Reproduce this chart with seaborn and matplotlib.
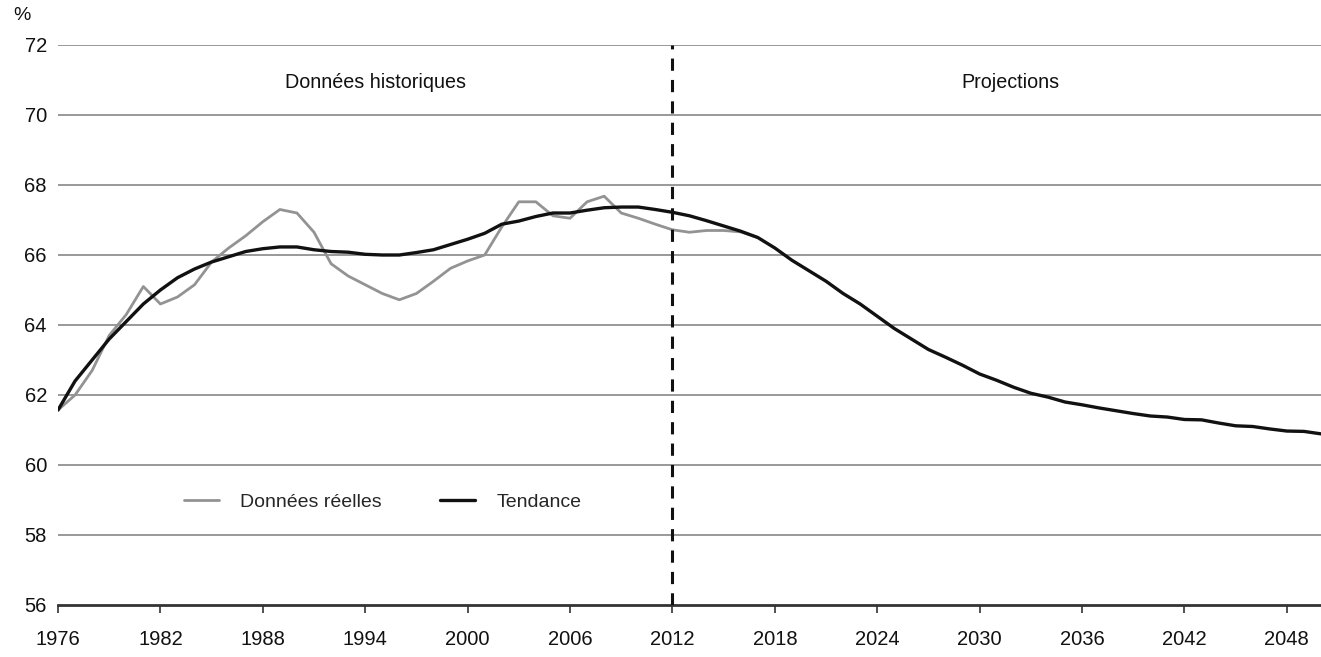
import matplotlib
matplotlib.use("Agg")
import matplotlib.pyplot as plt
import seaborn as sns
import pandas as pd

years_hist = list(range(1976, 2018))
reelles = [61.57, 62.0, 62.7, 63.7, 64.3, 65.1, 64.6, 64.8, 65.15, 65.8,
           66.2, 66.55, 66.95, 67.3, 67.2, 66.65, 65.75, 65.4, 65.15, 64.9,
           64.72, 64.9, 65.25, 65.62, 65.83, 66.0, 66.8, 67.52, 67.52, 67.12,
           67.05, 67.52, 67.68, 67.2, 67.05, 66.88, 66.72, 66.65, 66.7, 66.7,
           66.66, 66.5]

years_trend = list(range(1976, 2051))
tendance = [61.57, 62.4, 63.0, 63.6, 64.1, 64.6, 65.0, 65.35, 65.6, 65.8,
            65.95, 66.1, 66.18, 66.23, 66.23, 66.15, 66.1, 66.08, 66.02, 66.0,
            66.0, 66.07, 66.15, 66.3, 66.45, 66.62, 66.88, 66.97, 67.1, 67.2,
            67.2, 67.28, 67.35, 67.37, 67.37, 67.3, 67.22, 67.12, 66.98, 66.83,
            66.68, 66.5, 66.2, 65.85, 65.55, 65.25, 64.9, 64.6, 64.25, 63.9,
            63.6, 63.3, 63.08, 62.85, 62.6, 62.42, 62.22, 62.05, 61.94, 61.8,
            61.72, 61.63, 61.55, 61.47, 61.4, 61.37, 61.3, 61.29, 61.2, 61.12,
            61.1, 61.03, 60.97, 60.96, 60.89]

x_ticks = list(range(1976, 2050, 6))
y_ticks = list(range(56, 73, 2))
split_year = 2012
label_hist = "Données historiques"
label_proj = "Projections"
label_real = "Données réelles"
label_trend = "Tendance"

sns.set_theme(style="white")
plt.rcParams['font.family'] = ['Liberation Sans', 'DejaVu Sans']

fig = plt.figure(figsize=(13.21, 6.57), dpi=100)
ax = fig.add_axes([58/1321, 52/657, 1263/1321, 560/657])

df_r = pd.DataFrame({"year": years_hist, "val": reelles})
df_t = pd.DataFrame({"year": years_trend, "val": tendance})

for yv in y_ticks[1:]:
    ax.axhline(yv, color="#999999", lw=1.4, zorder=0)

sns.lineplot(data=df_r, x="year", y="val", ax=ax, color="#939393", lw=2.0,
             label=label_real, zorder=2)
sns.lineplot(data=df_t, x="year", y="val", ax=ax, color="#111111", lw=2.4,
             label=label_trend, zorder=3)

ax.axvline(split_year, color="#111111", lw=2.2, ls=(0, (4, 3)), zorder=4)

ax.set_xlim(1976, 2050)
ax.set_ylim(56, 72)
ax.set_xticks(x_ticks)
ax.set_yticks(y_ticks)
ax.set_xticklabels([str(t) for t in x_ticks], fontsize=14.5)
ax.set_yticklabels([str(t) for t in y_ticks], fontsize=14.5)
ax.set_xlabel("")
ax.set_ylabel("")

for s in ["top", "right", "left"]:
    ax.spines[s].set_visible(False)
ax.spines["bottom"].set_color("#333333")
ax.spines["bottom"].set_linewidth(2.0)
ax.tick_params(axis="x", direction="out", length=6, width=1.2, color="#333333",
               pad=12, labelcolor="#111111", bottom=True)
ax.tick_params(axis="y", length=0, pad=8, labelcolor="#111111")

ax.text(0.2515, 0.933, label_hist, transform=ax.transAxes, ha="center",
        va="center", fontsize=14.2, color="#111111")
ax.text(0.754, 0.933, label_proj, transform=ax.transAxes, ha="center",
        va="center", fontsize=14.2, color="#111111")
fig.text(22/1321, 1 - 15/657, "%", ha="center", va="center", fontsize=14,
         color="#111111")

leg = ax.legend(loc="center", bbox_to_anchor=(0.257, 0.184), ncol=2,
                frameon=False, fontsize=14, handlelength=1.8,
                columnspacing=3.0, handletextpad=1.1)

fig.savefig("out.png", dpi=100)
